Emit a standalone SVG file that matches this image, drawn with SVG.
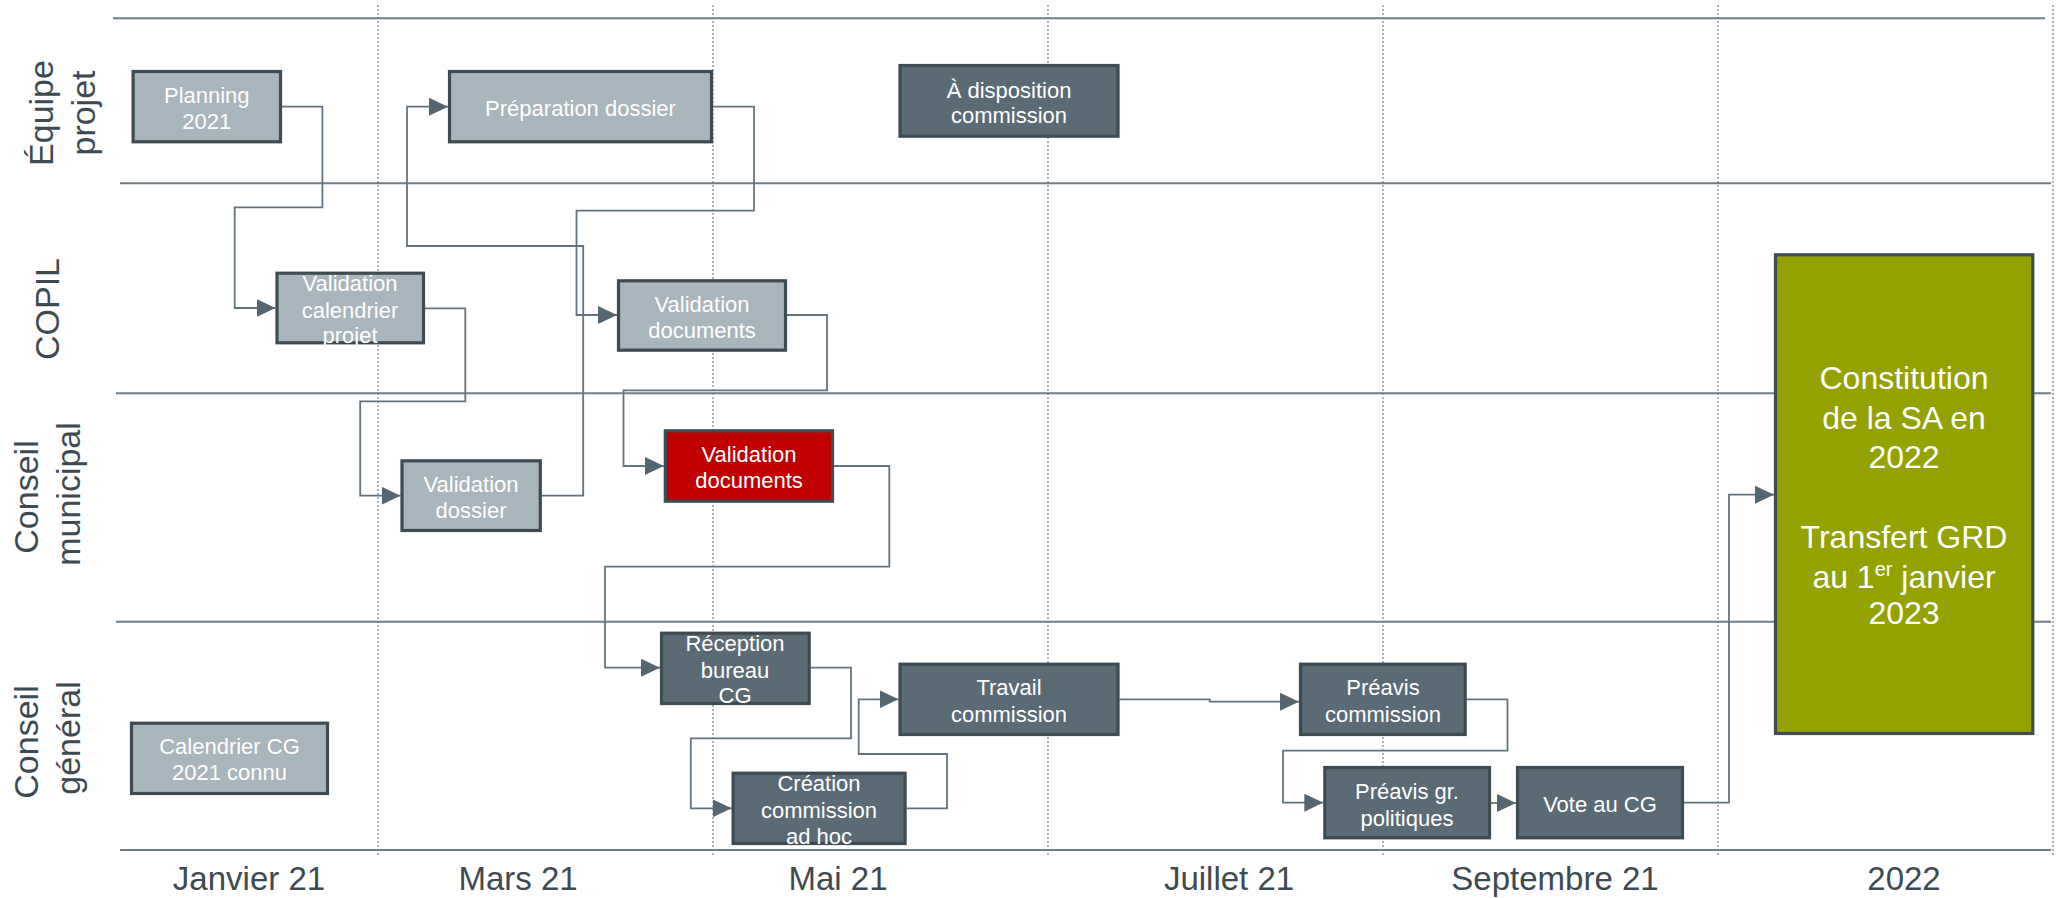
<svg xmlns="http://www.w3.org/2000/svg" width="2062" height="898" viewBox="0 0 2062 898">
<style>
.lane{font-family:"Liberation Sans",Arial,sans-serif;font-size:34px;fill:#3e4a52}
.axis{font-family:"Liberation Sans",Arial,sans-serif;font-size:33px;fill:#3e4a52;text-anchor:middle}
.bt{font-family:"Liberation Sans",Arial,sans-serif;font-size:22px;fill:#ffffff;text-anchor:middle}
.big{font-family:"Liberation Sans",Arial,sans-serif;font-size:32px;fill:#ffffff;text-anchor:middle}
.light{fill:#a9b5bc;stroke:#3f4b53;stroke-width:3.2}
.dark{fill:#5a6b76;stroke:#3f4b53;stroke-width:3.2}
.red{fill:#c00000;stroke:#3f4b53;stroke-width:3.2}
.olive{fill:#93a200;stroke:#3f4b53;stroke-width:3.2}
.hl{stroke:#6f7e88;stroke-width:2;fill:none}
.vl{stroke:#7f8c94;stroke-width:1.3;stroke-dasharray:2 2;fill:none}
.cn{stroke:#64747e;stroke-width:1.8;fill:none;marker-end:url(#arr)}
</style>
<defs>
<marker id="arr" markerUnits="userSpaceOnUse" markerWidth="19" markerHeight="18" refX="19" refY="9" orient="auto">
<path d="M0,0 L19,9 L0,18 z" fill="#566670"/>
</marker>
</defs>
<rect width="2062" height="898" fill="#ffffff"/>
<g id="grid">
<line class="vl" x1="378" y1="5" x2="378" y2="856"/>
<line class="vl" x1="713" y1="5" x2="713" y2="856"/>
<line class="vl" x1="1048" y1="5" x2="1048" y2="856"/>
<line class="vl" x1="1383" y1="5" x2="1383" y2="856"/>
<line class="vl" x1="1718" y1="5" x2="1718" y2="856"/>
<line class="vl" x1="2053" y1="5" x2="2053" y2="856"/>
<line class="hl" x1="113" y1="18.3" x2="2045" y2="18.3"/>
<line class="hl" x1="120" y1="183.3" x2="2051" y2="183.3"/>
<line class="hl" x1="116" y1="393.3" x2="2051" y2="393.3"/>
<line class="hl" x1="116" y1="621.7" x2="2051" y2="621.7"/>
<line class="hl" x1="120" y1="850" x2="2051" y2="850"/>
</g>
<g id="lanes">
<text class="lane" transform="translate(53.3,113) rotate(-90)" text-anchor="middle">Équipe</text>
<text class="lane" transform="translate(94.6,113) rotate(-90)" text-anchor="middle">projet</text>
<text class="lane" transform="translate(59.3,309) rotate(-90)" text-anchor="middle">COPIL</text>
<text class="lane" transform="translate(38.3,497) rotate(-90)" text-anchor="middle">Conseil</text>
<text class="lane" transform="translate(79.6,494) rotate(-90)" text-anchor="middle">municipal</text>
<text class="lane" transform="translate(38.3,742) rotate(-90)" text-anchor="middle">Conseil</text>
<text class="lane" transform="translate(79.6,738) rotate(-90)" text-anchor="middle">général</text>
</g>
<g id="axis">
<text class="axis" x="249" y="890">Janvier 21</text>
<text class="axis" x="518" y="890">Mars 21</text>
<text class="axis" x="838" y="890">Mai 21</text>
<text class="axis" x="1229" y="890">Juillet 21</text>
<text class="axis" x="1555" y="890">Septembre 21</text>
<text class="axis" x="1904" y="890">2022</text>
</g>
<g id="connectors">
<path class="cn" d="M282,106.7 H322.4 V207.3 H234.7 V308 H275.5"/>
<path class="cn" d="M425,308.3 H465.3 V401.3 H360.2 V495.7 H400.5"/>
<path class="cn" d="M541.8,495.7 H583.2 V246 H407 V106.7 H448"/>
<path class="cn" d="M713,106.7 H754 V210.7 H576.5 V315 H617"/>
<path class="cn" d="M787,315 H827 V390.3 H623.5 V466 H663.8"/>
<path class="cn" d="M834,466 H889.3 V566.7 H605 V667.7 H660"/>
<path class="cn" d="M810.7,667.7 H851 V738.3 H690.8 V808.3 H731.6"/>
<path class="cn" d="M906.6,808.3 H947 V754 H858.7 V699.3 H898.5"/>
<path class="cn" d="M1119.4,699.3 H1209.7 V701.7 H1299"/>
<path class="cn" d="M1466.7,699.3 H1507.5 V750.7 H1283 V802.7 H1323.3"/>
<path class="cn" d="M1491,803 H1516"/>
<path class="cn" d="M1684,802.7 H1729 V494.7 H1774"/>
</g>
<g id="planning">
<rect class="light" x="133.1" y="71.5" width="147.4" height="70.3"/>
<text class="bt" x="206.8" y="103.2">Planning</text>
<text class="bt" x="206.8" y="128.8">2021</text>
</g>
<g id="preparation">
<rect class="light" x="449.5" y="71.5" width="262" height="70.3"/>
<text class="bt" x="580.5" y="115.5">Préparation dossier</text>
</g>
<g id="disposition">
<rect class="dark" x="900" y="65.5" width="218" height="70.7"/>
<text class="bt" x="1009" y="97.5">À disposition</text>
<text class="bt" x="1009" y="123.2">commission</text>
</g>
<g id="validation-calendrier">
<rect class="light" x="277" y="273.2" width="146.5" height="69.6"/>
<text class="bt" x="350" y="290.8">Validation</text>
<text class="bt" x="350" y="317.5">calendrier</text>
<text class="bt" x="350" y="342.5">projet</text>
</g>
<g id="validation-documents-copil">
<rect class="light" x="618.5" y="280.8" width="167" height="69.4"/>
<text class="bt" x="702" y="311.5">Validation</text>
<text class="bt" x="702" y="337.5">documents</text>
</g>
<g id="validation-dossier">
<rect class="light" x="402" y="460.8" width="138.3" height="69.7"/>
<text class="bt" x="471" y="491.5">Validation</text>
<text class="bt" x="471" y="517.5">dossier</text>
</g>
<g id="validation-documents-cm">
<rect class="red" x="665.3" y="430.8" width="167.2" height="70.4"/>
<text class="bt" x="749" y="461.8">Validation</text>
<text class="bt" x="749" y="487.5">documents</text>
</g>
<g id="reception">
<rect class="dark" x="661.5" y="633.2" width="147.7" height="70.3"/>
<text class="bt" x="735" y="650.8">Réception</text>
<text class="bt" x="735" y="677.5">bureau</text>
<text class="bt" x="735" y="702.5">CG</text>
</g>
<g id="creation">
<rect class="dark" x="733.1" y="773.2" width="172" height="70.3"/>
<text class="bt" x="819" y="790.8">Création</text>
<text class="bt" x="819" y="817.5">commission</text>
<text class="bt" x="819" y="843.5">ad hoc</text>
</g>
<g id="travail">
<rect class="dark" x="900" y="664.2" width="218" height="70.3"/>
<text class="bt" x="1009" y="694.8">Travail</text>
<text class="bt" x="1009" y="721.5">commission</text>
</g>
<g id="preavis-commission">
<rect class="dark" x="1300.5" y="664.2" width="164.7" height="70.3"/>
<text class="bt" x="1383" y="694.8">Préavis</text>
<text class="bt" x="1383" y="721.5">commission</text>
</g>
<g id="preavis-groupes">
<rect class="dark" x="1324.8" y="767.5" width="164.7" height="70.3"/>
<text class="bt" x="1407" y="799.2">Préavis gr.</text>
<text class="bt" x="1407" y="825.8">politiques</text>
</g>
<g id="vote">
<rect class="dark" x="1517.5" y="767.5" width="165" height="70.3"/>
<text class="bt" x="1600" y="811.8">Vote au CG</text>
</g>
<g id="calendrier-cg">
<rect class="light" x="131.5" y="723.2" width="196" height="70.3"/>
<text class="bt" x="229.5" y="754.2">Calendrier CG</text>
<text class="bt" x="229.5" y="780.2">2021 connu</text>
</g>
<g id="constitution">
<rect class="olive" x="1775.5" y="254.8" width="257.3" height="478.7"/>
<text class="big" x="1904" y="389.3">Constitution</text>
<text class="big" x="1904" y="429.3">de la SA en</text>
<text class="big" x="1904" y="467.7">2022</text>
<text class="big" x="1904" y="547.7">Transfert GRD</text>
<text class="big" x="1904" y="587.7">au 1<tspan font-size="20" dy="-12">er</tspan><tspan dy="12"> janvier</tspan></text>
<text class="big" x="1904" y="624.3">2023</text>
</g>
</svg>
